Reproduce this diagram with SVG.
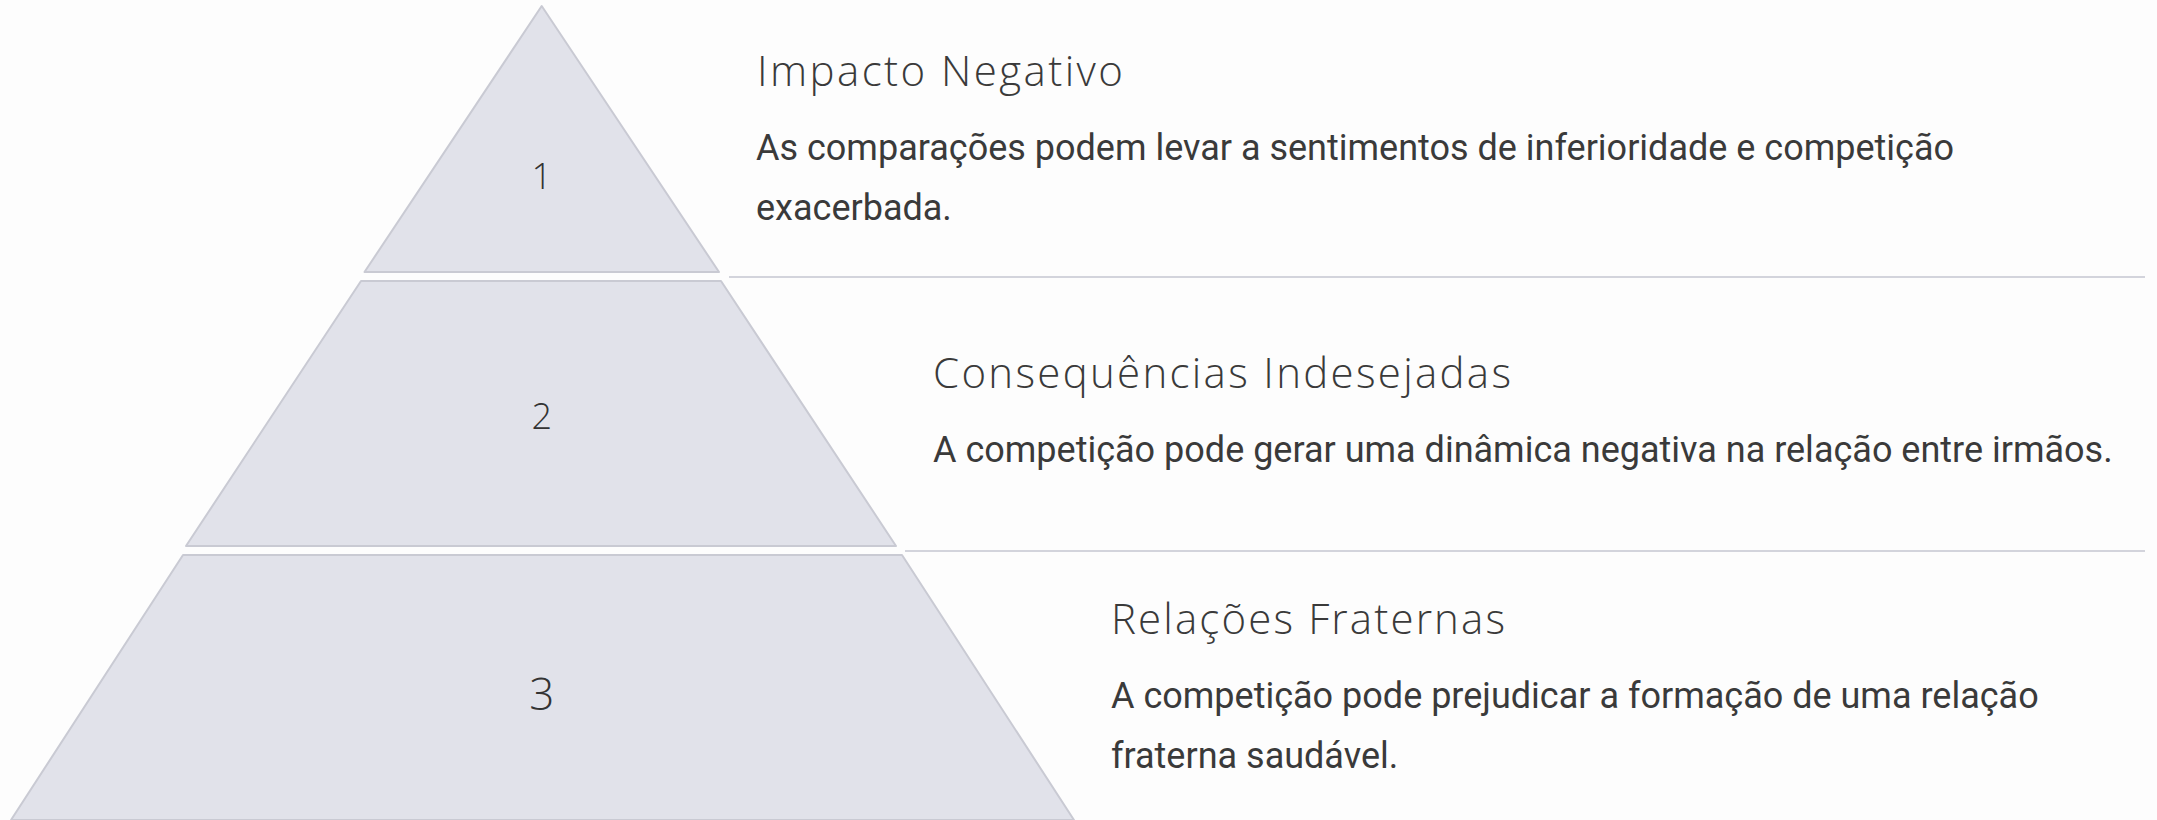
<svg xmlns="http://www.w3.org/2000/svg" width="2157" height="820" viewBox="0 0 2157 820">
<style>
.layer{fill:#e1e2ea;stroke:#c9cad3;stroke-width:2;stroke-linejoin:round}
.sep{stroke:#d3d4dc;stroke-width:2;fill:none}
.num{font-family:"Open Sans","Lato","Noto Sans",sans-serif;font-weight:300;fill:#333333;text-anchor:middle}
.title{font-family:"Open Sans","Lato","Noto Sans",sans-serif;font-weight:300;font-size:42px;fill:#3a3a3a}
.body{font-family:Roboto,"Liberation Sans",sans-serif;font-size:36px;fill:#3a3a3a}
</style>
<rect x="0" y="0" width="2157" height="820" fill="#fdfdfd"/>
<g id="connectors">
<line class="sep" x1="729" y1="277" x2="2145" y2="277"/>
<line class="sep" x1="905" y1="551" x2="2145" y2="551"/>
</g>
<g id="layer1">
<polygon class="layer" points="541.7,6 719,272 364.5,272"/>
<text class="num" x="541.7" y="189" font-size="36">1</text>
<text class="title" x="757" y="86" textLength="366" lengthAdjust="spacing">Impacto Negativo</text>
<text class="body" x="756" y="160">As comparações podem levar a sentimentos de inferioridade e competição</text>
<text class="body" x="756" y="220">exacerbada.</text>
</g>
<g id="layer2">
<polygon class="layer" points="361,281 721,281 896,546 186,546"/>
<text class="num" x="541.7" y="429" font-size="36">2</text>
<text class="title" x="933" y="388" textLength="578" lengthAdjust="spacing">Consequências Indesejadas</text>
<text class="body" x="933" y="462">A competição pode gerar uma dinâmica negativa na relação entre irmãos.</text>
</g>
<g id="layer3">
<polygon class="layer" points="183,555 902,555 1074,820 11,820"/>
<text class="num" x="541.7" y="710" font-size="44">3</text>
<text class="title" x="1111" y="634" textLength="394" lengthAdjust="spacing">Relações Fraternas</text>
<text class="body" x="1111" y="708">A competição pode prejudicar a formação de uma relação</text>
<text class="body" x="1111" y="768">fraterna saudável.</text>
</g>
</svg>
